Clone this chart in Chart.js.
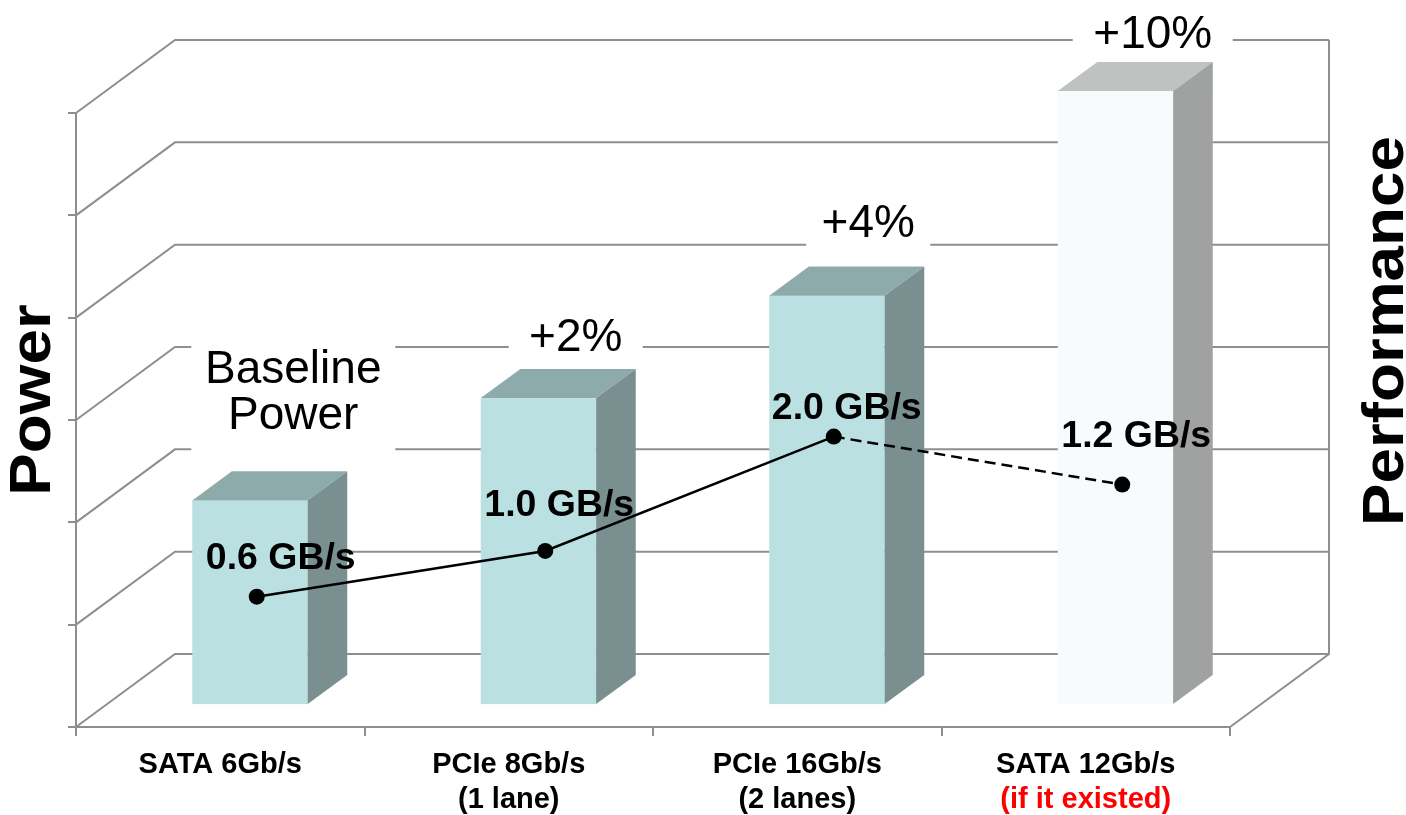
<!DOCTYPE html>
<html>
<head>
<meta charset="utf-8">
<script src="https://cdn.jsdelivr.net/npm/chart.js@4.4.1/dist/chart.umd.min.js"></script>
<style>
  html, body { margin: 0; padding: 0; background: #fff; }
  #chart { display: block; }
</style>
</head>
<body>
<canvas id="chart" width="1406" height="815"></canvas>
<script>
// Categorias (eixo X)
const interfaces = [['SATA 6Gb/s'], ['PCIe 8Gb/s', '(1 lane)'], ['PCIe 16Gb/s', '(2 lanes)'], ['SATA 12Gb/s']];
const interfaceNotes = ['', '', '', '(if it existed)'];

// Potência (altura das barras, em divisões da grade)
const powerValues = [2, 3, 4, 6];
const powerTicks = [0, 1, 2, 3, 4, 5, 6];
const powerNotes = [['Baseline', 'Power'], ['+2%'], ['+4%'], ['+10%']];

// Performance (GB/s) - texto do rótulo e nível do ponto no gráfico
const perfLabels = ['0.6 GB/s', '1.0 GB/s', '2.0 GB/s', '1.2 GB/s'];
const perfLevels = [0.6, 1.0, 2.0, 1.58];

// Estilos
const FONT = '"Liberation Sans", Arial, Helvetica, sans-serif';
const GRID = '#8e8e8e';
const DEPTH = { dx: 99, dy: -73 };  // profundidade do piso 3D
const BAR_Z = 0.3;                   // início da barra na profundidade
const BAR_D = 0.4;                   // espessura da barra
const barFace = ['#bbe0e1', '#bbe0e1', '#bbe0e1', '#f7fbfd'];
const barTop = ['#8eabac', '#8eabac', '#8eabac', '#c0c2c1'];
const barSide = ['#798f90', '#798f90', '#798f90', '#a0a2a1'];

// Posição das anotações (+x%) e dos rótulos GB/s
const noteLayout = [
  { dx: 73, base: 383, half: 102, top: 336, bottom: 460 },
  { dx: 67, base: 351, half: 67, top: 305, bottom: 362 },
  { dx: 71, base: 237, half: 62, top: 195, bottom: 256 },
  { dx: 67, base: 48, half: 80, top: 4, bottom: 60 }
];
const labelNudge = [[24, -28], [14, -35], [13, -18], [14, -38]];

const TICK_SIZE = 29;
const TICK_PAD = 11;
const TICK_LH = 35;

// Paredes, grade, anotações e barras 3D
const wall3d = {
  id: 'wall3d',
  beforeDatasetsDraw(chart) {
    const { ctx, chartArea: a, scales } = chart;
    const x = scales.x, y = scales.y;
    ctx.save();

    // grade: parede esquerda + parede do fundo
    ctx.strokeStyle = GRID;
    ctx.lineWidth = 2;
    ctx.beginPath();
    powerTicks.forEach(v => {
      const py = y.getPixelForValue(v);
      ctx.moveTo(a.left, py);
      ctx.lineTo(a.left + DEPTH.dx, py + DEPTH.dy);
      ctx.lineTo(a.right + DEPTH.dx, py + DEPTH.dy);
    });
    const topY = y.getPixelForValue(powerTicks[powerTicks.length - 1]);
    ctx.moveTo(a.right + DEPTH.dx, topY + DEPTH.dy);
    ctx.lineTo(a.right + DEPTH.dx, a.bottom + DEPTH.dy);
    ctx.lineTo(a.right, a.bottom);
    ctx.stroke();

    // anotações com fundo branco
    ctx.font = `46px ${FONT}`;
    ctx.textAlign = 'center';
    ctx.textBaseline = 'alphabetic';
    powerNotes.forEach((lines, i) => {
      const n = noteLayout[i];
      const cx = x.getPixelForValue(i) + n.dx;
      ctx.fillStyle = '#fff';
      ctx.fillRect(cx - n.half, n.top, n.half * 2, n.bottom - n.top);
      ctx.fillStyle = '#000';
      lines.forEach((t, k) => ctx.fillText(t, cx, n.base + k * 46));
    });

    // barras 3D
    const meta = chart.getDatasetMeta(0);
    const ddx = DEPTH.dx * BAR_D, ddy = DEPTH.dy * BAR_D;
    meta.data.forEach((bar, i) => {
      const w = bar.width;
      const x0 = bar.x - w / 2 + DEPTH.dx * BAR_Z;
      const yt = bar.y + DEPTH.dy * BAR_Z;
      const yb = bar.base + DEPTH.dy * BAR_Z;

      ctx.fillStyle = barFace[i];
      ctx.fillRect(x0, yt, w, yb - yt);

      ctx.fillStyle = barTop[i];
      ctx.beginPath();
      ctx.moveTo(x0, yt);
      ctx.lineTo(x0 + w, yt);
      ctx.lineTo(x0 + w + ddx, yt + ddy);
      ctx.lineTo(x0 + ddx, yt + ddy);
      ctx.closePath();
      ctx.fill();

      ctx.fillStyle = barSide[i];
      ctx.beginPath();
      ctx.moveTo(x0 + w, yt);
      ctx.lineTo(x0 + w + ddx, yt + ddy);
      ctx.lineTo(x0 + w + ddx, yb + ddy);
      ctx.lineTo(x0 + w, yb);
      ctx.closePath();
      ctx.fill();
    });
    ctx.restore();
  },

  afterDatasetsDraw(chart) {
    const { ctx, scales } = chart;
    const x = scales.x;
    ctx.save();

    // rótulos GB/s
    ctx.fillStyle = '#000';
    ctx.font = `bold 36px ${FONT}`;
    ctx.textAlign = 'center';
    ctx.textBaseline = 'alphabetic';
    chart.getDatasetMeta(1).data.forEach((p, i) => {
      ctx.save();
      ctx.translate(p.x + labelNudge[i][0], p.y + labelNudge[i][1]);
      ctx.scale(1.04, 1);
      ctx.fillText(perfLabels[i], 0, 0);
      ctx.restore();
    });

    // segunda linha vermelha do eixo X
    ctx.font = `bold ${TICK_SIZE}px ${FONT}`;
    ctx.fillStyle = '#ff0000';
    ctx.textBaseline = 'middle';
    const firstLine = x.top + 9 + TICK_PAD + TICK_LH / 2;
    interfaceNotes.forEach((t, i) => {
      if (t) ctx.fillText(t, x.getPixelForValue(i), firstLine + TICK_LH);
    });

    // títulos verticais
    ctx.fillStyle = '#000';
    ctx.font = `bold 58px ${FONT}`;
    ctx.textBaseline = 'alphabetic';
    [['Power', 50, 400], ['Performance', 1403, 331]].forEach(([t, tx, ty]) => {
      ctx.save();
      ctx.translate(tx, ty);
      ctx.rotate(-Math.PI / 2);
      ctx.scale(1.1, 1);
      ctx.fillText(t, 0, 0);
      ctx.restore();
    });
    ctx.restore();
  }
};

const ctx = document.getElementById('chart').getContext('2d');
new Chart(ctx, {
  type: 'bar',
  data: {
    labels: interfaces,
    datasets: [
      {
        label: 'Power',
        data: powerValues,
        xAxisID: 'x',
        yAxisID: 'y',
        backgroundColor: 'rgba(0,0,0,0)',
        borderWidth: 0,
        grouped: false,
        barPercentage: 1,
        categoryPercentage: 0.4,
        order: 2
      },
      {
        type: 'line',
        label: 'Performance',
        data: perfLevels.map((v, i) => ({ x: i, y: v })),
        xAxisID: 'xLine',
        yAxisID: 'yPerf',
        borderColor: '#000',
        borderWidth: 2.5,
        pointRadius: 8,
        pointBackgroundColor: '#000',
        pointBorderWidth: 0,
        tension: 0,
        segment: {
          borderDash: c => c.p1DataIndex === 3 ? [11, 6] : undefined
        },
        order: 1
      }
    ]
  },
  options: {
    responsive: false,
    animation: false,
    devicePixelRatio: 1,
    layout: { padding: { top: 113, right: 176, left: 0, bottom: 0 } },
    plugins: {
      legend: { display: false },
      tooltip: { enabled: false }
    },
    scales: {
      x: {
        type: 'category',
        position: 'bottom',
        offset: true,
        grid: { offset: true, drawOnChartArea: false, tickLength: 9, color: GRID, lineWidth: 2 },
        border: { color: GRID, width: 2 },
        ticks: {
          color: '#000',
          autoSkip: false,
          maxRotation: 0,
          padding: TICK_PAD,
          font: { family: FONT, size: TICK_SIZE, weight: 'bold', lineHeight: TICK_LH / TICK_SIZE }
        },
        afterFit: s => { s.height = 88; }
      },
      y: {
        type: 'linear',
        position: 'left',
        min: 0,
        max: 6,
        ticks: { stepSize: 1, display: false },
        grid: { drawOnChartArea: false, tickLength: 8, color: GRID, lineWidth: 2 },
        border: { color: GRID, width: 2 },
        afterFit: s => { s.width = 76; }
      },
      xLine: {
        type: 'linear',
        display: false,
        offset: false,
        grid: { offset: false },
        bounds: 'data',
        min: -0.6265,
        max: 3.3735
      },
      yPerf: {
        type: 'linear',
        display: false,
        bounds: 'data',
        min: -0.54,
        max: 4.83
      }
    }
  },
  plugins: [wall3d]
});
</script>
</body>
</html>
